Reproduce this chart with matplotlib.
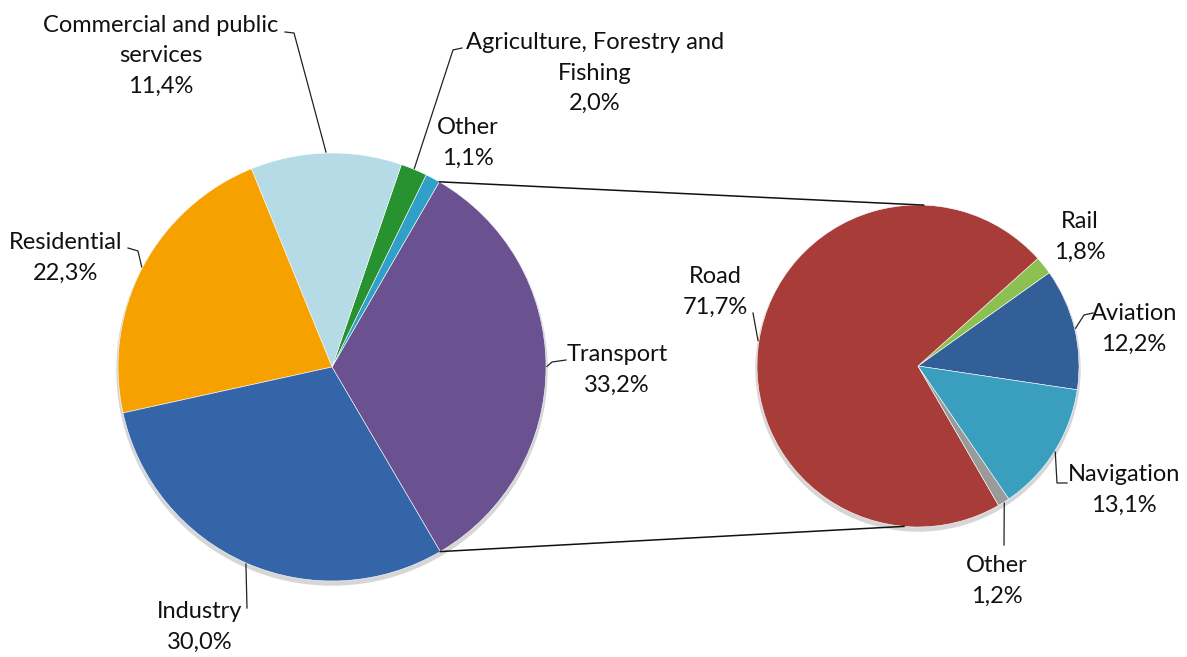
import numpy as np
import matplotlib.pyplot as plt
from matplotlib.patches import Circle

# final energy consumption by sector, and the split of the transport share
sectors = ["Transport", "Other", "Agriculture, Forestry and\nFishing",
           "Commercial and public\nservices", "Residential", "Industry"]
sector_shares = [33.2, 1.1, 2.0, 11.4, 22.3, 30.0]
sector_colors = ["#6A5190", "#31A0C8", "#27922F", "#B5DCE6", "#F7A100", "#3465A8"]

modes = ["Aviation", "Rail", "Road", "Other", "Navigation"]
mode_shares = [12.2, 1.8, 71.7, 1.2, 13.1]
mode_colors = ["#335F98", "#8CC152", "#A83C39", "#9A9A9A", "#3A9EBF"]

W, H = 1187, 657
FONT = "Lato"


def py(y):
    # layout is worked out in pixels from the top edge
    return H - y


def fmt(name, v):
    return f"{name}\n{v:.1f}%".replace(".", ",")


def edge_point(wedge, r_extra=0.0):
    mid = np.deg2rad((wedge.theta1 + wedge.theta2) / 2)
    cx, cy = wedge.center
    r = wedge.r + r_extra
    return cx + r * np.cos(mid), cy + r * np.sin(mid)


fig = plt.figure(figsize=(W / 100, H / 100), dpi=100)
ax = fig.add_axes([0, 0, 1, 1])

left_c, left_r = (332, py(367)), 214
right_c, right_r = (918, py(366)), 161

for (cx, cy), r in [(left_c, left_r), (right_c, right_r)]:
    ax.add_patch(Circle((cx, cy - 3), r + 1, color="#d6d6d6", zorder=0))

lw, _ = ax.pie(sector_shares, colors=sector_colors, startangle=-59.6,
               center=left_c, radius=left_r,
               wedgeprops=dict(edgecolor="white", linewidth=0.4))
rw, _ = ax.pie(mode_shares, colors=mode_colors, startangle=-8.5,
               center=right_c, radius=right_r,
               wedgeprops=dict(edgecolor="white", linewidth=0.4))

# label centre and leader elbows (pixels), leader ends on the wedge edge
left_labels = {
    "Transport": ((617, 370), [(566, 360), (552, 362)]),
    "Other": ((468, 143), None),
    "Agriculture, Forestry and\nFishing": ((595, 73), [(462, 48), (453, 50)]),
    "Commercial and public\nservices": ((161, 56), [(285, 32), (294, 33)]),
    "Residential": ((66, 258), [(128, 248), (138, 251)]),
    "Industry": ((200, 627), [(247, 608)]),
}
right_labels = {
    "Aviation": ((1134, 329), [(1093, 313), (1084, 315)]),
    "Rail": ((1080, 237), None),
    "Road": ((715, 292), [(753, 313)]),
    "Other": ((997, 581), [(1004, 545)]),
    "Navigation": ((1124, 490), [(1067, 483), (1057, 483)]),
}

for wedges, names, shares, layout in [(lw, sectors, sector_shares, left_labels),
                                      (rw, modes, mode_shares, right_labels)]:
    for w, name, v in zip(wedges, names, shares):
        (tx, ty), elbows = layout[name]
        ax.text(tx, py(ty), fmt(name, v), ha="center", va="center",
                fontsize=17, family=FONT, linespacing=1.55, color="#111111")
        if elbows:
            pts = [(x, py(y)) for x, y in elbows] + [edge_point(w, 1)]
            xs, ys = zip(*pts)
            ax.plot(xs, ys, color="#222222", lw=0.9, zorder=3)

# connectors from the transport wedge to the breakdown pie
tw = lw[0]
t1, t2 = np.deg2rad(tw.theta1), np.deg2rad(tw.theta2)
top_l = (left_c[0] + left_r * np.cos(t2), left_c[1] + left_r * np.sin(t2))
bot_l = (left_c[0] + left_r * np.cos(t1), left_c[1] + left_r * np.sin(t1))
a_top, a_bot = np.deg2rad(88), np.deg2rad(265)
top_r = (right_c[0] + right_r * np.cos(a_top), right_c[1] + right_r * np.sin(a_top))
bot_r = (right_c[0] + right_r * np.cos(a_bot), right_c[1] + right_r * np.sin(a_bot))
for a, b in [(top_l, top_r), (bot_l, bot_r)]:
    ax.plot([a[0], b[0]], [a[1], b[1]], color="#111111", lw=1.1, zorder=3)

ax.set_xlim(0, W)
ax.set_ylim(0, H)
ax.set_aspect("equal")
ax.axis("off")

fig.savefig("out.png", dpi=100, facecolor="white")
